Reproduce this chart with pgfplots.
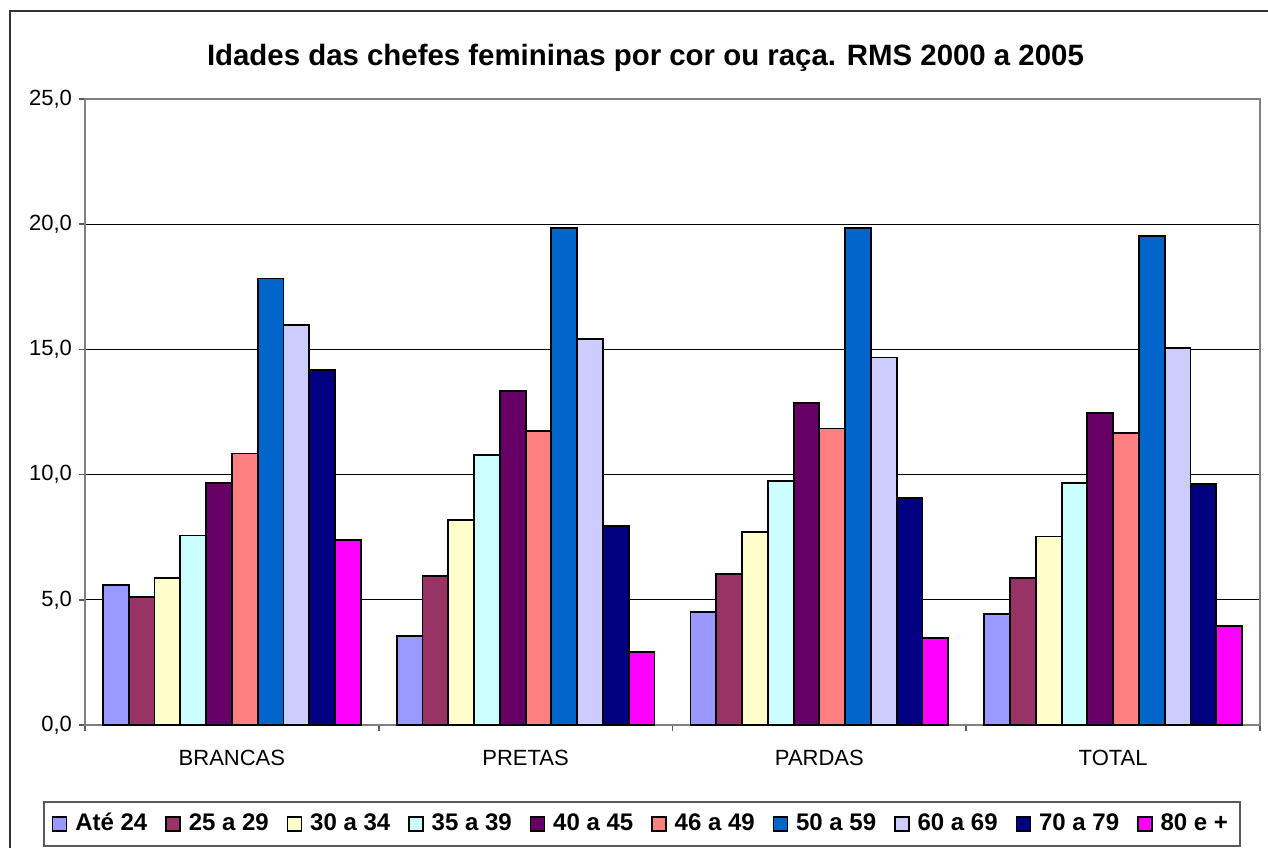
\documentclass[border=0pt]{standalone}
\usepackage{pgfplots}
\pgfplotsset{compat=1.18}
\usepackage{fontspec}
\setmainfont{Liberation Sans}
\definecolor{c1}{HTML}{9999FF}
\definecolor{c2}{HTML}{993366}
\definecolor{c3}{HTML}{FFFFCC}
\definecolor{c4}{HTML}{CCFFFF}
\definecolor{c5}{HTML}{660066}
\definecolor{c6}{HTML}{FF8080}
\definecolor{c7}{HTML}{0066CC}
\definecolor{c8}{HTML}{CCCCFF}
\definecolor{c9}{HTML}{000080}
\definecolor{c10}{HTML}{FF00FF}
\begin{document}
\begin{tikzpicture}
\path[use as bounding box] (-42.5pt,-61.5pt) rectangle (591.5pt,362.5pt);
\draw[line width=0.8pt, black!80] (-37.5pt,-61.5pt) -- (-37.5pt,357pt) -- (591.5pt,357pt);
\begin{axis}[
  at={(0pt,0pt)}, anchor=south west,
  scale only axis, width=587.5pt, height=313pt,
  ybar=0pt, bar width=0.0877,
  xmin=-0.5, xmax=3.5, ymin=0, ymax=25,
  xtick={0,1,2,3}, xticklabels={BRANCAS,PRETAS,PARDAS,TOTAL},
  major x tick style={draw=none},
  minor xtick={-0.5,0.5,1.5,2.5,3.5},
  ytick={0,5,10,15,20,25},
  tick pos=left,
  tick align=outside, major tick length=3pt, minor tick length=3pt,
  tick style={gray!70!black, line width=0.8pt},
  axis line style={gray, line width=1pt},
  ymajorgrids, grid style={black, line width=0.5pt},
  ticklabel style={font=\fontsize{11}{13}\selectfont},
  xticklabel style={yshift=-6pt},
  yticklabel style={/pgf/number format/fixed, /pgf/number format/fixed zerofill, /pgf/number format/precision=1, /pgf/number format/use comma, /pgf/number format/assume math mode=true},
  title={Idades das chefes femininas por cor ou raça. RMS 2000 a 2005},
  title style={font=\bfseries\fontsize{14.7}{17}\selectfont, at={(0.477,1.046)}, anchor=center},
  legend columns=10,
  legend style={at={(0.474,-0.158)}, anchor=center, draw=gray!70!black, line width=0.8pt,
    font=\bfseries\fontsize{12}{14}\selectfont, inner xsep=4pt, inner ysep=3.2pt,
    nodes={text height=9pt, text depth=2.5pt},
    /tikz/every odd column/.append style={column sep=2pt},
    /tikz/every even column/.append style={column sep=7pt}},
  legend image code/.code={\draw[#1,/tikz/.cd,line width=0.7pt] (0pt,-3.5pt) rectangle (7pt,3.5pt);},
  every axis plot/.append style={draw=black, line width=0.9pt},
]
\addplot[fill=c1] coordinates {(0,5.58) (1,3.55) (2,4.52) (3,4.44)};
\addplot[fill=c2] coordinates {(0,5.10) (1,5.95) (2,6.03) (3,5.86)};
\addplot[fill=c3] coordinates {(0,5.88) (1,8.18) (2,7.70) (3,7.53)};
\addplot[fill=c4] coordinates {(0,7.57) (1,10.79) (2,9.75) (3,9.67)};
\addplot[fill=c5] coordinates {(0,9.65) (1,13.34) (2,12.85) (3,12.47)};
\addplot[fill=c6] coordinates {(0,10.84) (1,11.75) (2,11.84) (3,11.66)};
\addplot[fill=c7] coordinates {(0,17.83) (1,19.86) (2,19.86) (3,19.53)};
\addplot[fill=c8] coordinates {(0,15.99) (1,15.40) (2,14.68) (3,15.07)};
\addplot[fill=c9] coordinates {(0,14.18) (1,7.95) (2,9.05) (3,9.62)};
\addplot[fill=c10] coordinates {(0,7.40) (1,2.93) (2,3.48) (3,3.96)};
\legend{Até 24,25 a 29,30 a 34,35 a 39,40 a 45,46 a 49,50 a 59,60 a 69,70 a 79,80 e +}
\end{axis}
\end{tikzpicture}
\end{document}
